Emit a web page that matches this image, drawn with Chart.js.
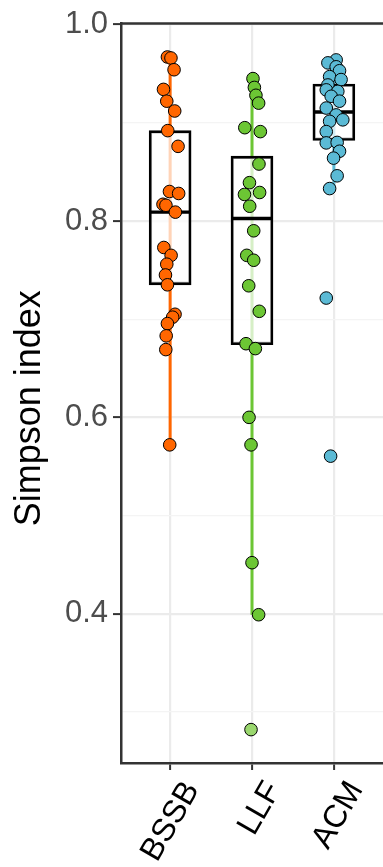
<!DOCTYPE html>
<html>
<head>
<meta charset="utf-8">
<script src="https://cdn.jsdelivr.net/npm/chart.js@4.4.1/dist/chart.umd.min.js"></script>
<style>
  html, body { margin: 0; padding: 0; background: #ffffff; overflow: hidden; }
  #wrap { width: 383px; height: 867px; position: relative; }
</style>
</head>
<body>
<div id="wrap"><canvas id="chart"></canvas></div>
<script>
// Sites
const categories = ['BSSB', 'LLF', 'ACM'];
const groupColors = ['#FF6600', '#6CC634', '#5BBAD5'];

// Simpson index per sample, with horizontal jitter (in category units)
const bssbValues = [0.967, 0.966, 0.954, 0.934, 0.922, 0.912, 0.892, 0.876, 0.830, 0.828, 0.817, 0.816,
                    0.809, 0.773, 0.765, 0.756, 0.745, 0.735, 0.705, 0.702, 0.6955, 0.683, 0.669, 0.572];
const bssbJitter = [-0.033, 0.010, 0.048, -0.081, -0.041, 0.056, -0.029, 0.097, -0.008, 0.104, -0.087, -0.051,
                    0.064, -0.077, 0.012, -0.041, -0.057, -0.033, 0.060, 0.031, -0.033, -0.048, -0.053, -0.005];

const llfValues = [0.945, 0.936, 0.928, 0.920, 0.895, 0.891, 0.858, 0.839, 0.829, 0.827, 0.815, 0.790,
                   0.765, 0.760, 0.734, 0.708, 0.675, 0.670, 0.600, 0.572, 0.452, 0.399];
const llfJitter = [0.012, 0.029, 0.048, 0.081, -0.088, 0.102, 0.085, -0.031, 0.093, -0.092, -0.028, 0.021,
                   -0.064, 0.021, -0.040, 0.089, -0.073, 0.041, -0.036, -0.012, 0.000, 0.081];
const llfOutliers = [0.282];
const llfOutlierJitter = [-0.012];

const acmValues = [0.964, 0.961, 0.957, 0.953, 0.947, 0.944, 0.9385, 0.9335, 0.932, 0.927, 0.922, 0.915,
                   0.908, 0.903, 0.9015, 0.891, 0.8795, 0.880, 0.871, 0.864, 0.846, 0.833, 0.7215, 0.5605];
const acmJitter = [0.028, -0.073, 0.028, 0.069, -0.052, 0.088, -0.073, -0.093, 0.048, -0.033, 0.069, -0.093,
                   0.028, 0.109, -0.052, -0.093, -0.093, 0.040, 0.069, -0.004, 0.040, -0.052, -0.093, -0.040];

// Box summaries per site
const q1Values     = [0.735, 0.674, 0.882];
const medianValues = [0.809, 0.8025, 0.911];
const q3Values     = [0.892, 0.866, 0.9395];
const whiskerLow   = [0.572, 0.399, 0.833];
const whiskerHigh  = [0.967, 0.945, 0.964];

// Axis ticks
const yMajorTicks = [0.4, 0.6, 0.8, 1.0];
const yMinorTicks = [0.3, 0.5, 0.7, 0.9];

const catPos = categories.map((_, i) => i + 1);
const boxHalf = 0.24;

const pointSets = [
  { values: bssbValues, jitter: bssbJitter },
  { values: llfValues, jitter: llfJitter },
  { values: acmValues, jitter: acmJitter }
];

const datasets = [];

// whiskers
catPos.forEach((c, i) => {
  datasets.push({
    type: 'line',
    data: [{ x: c, y: whiskerLow[i] }, { x: c, y: whiskerHigh[i] }],
    borderColor: groupColors[i],
    borderWidth: 3,
    pointRadius: 0,
    order: 5
  });
});

// boxes (interquartile range)
datasets.push({
  type: 'bar',
  data: catPos.map((c, i) => ({ x: c, y: [q1Values[i], q3Values[i]] })),
  backgroundColor: 'rgba(255,255,255,0.72)',
  borderColor: '#000000',
  borderWidth: 2.6,
  borderSkipped: false,
  barThickness: 42,
  order: 4
});

// medians
const medianData = [];
catPos.forEach((c, i) => {
  medianData.push({ x: c - boxHalf - 0.01, y: medianValues[i] });
  medianData.push({ x: c + boxHalf + 0.01, y: medianValues[i] });
  medianData.push({ x: c + 0.5, y: null });
});
datasets.push({
  type: 'line',
  data: medianData,
  borderColor: '#000000',
  borderWidth: 3.4,
  pointRadius: 0,
  spanGaps: false,
  order: 3
});

// outlying sample
datasets.push({
  type: 'scatter',
  data: llfOutliers.map((v, k) => ({ x: catPos[1] + llfOutlierJitter[k], y: v })),
  backgroundColor: '#9AD76E',
  borderColor: '#000000',
  borderWidth: 1,
  pointRadius: 6.3,
  order: 2
});

// samples
pointSets.forEach((set, i) => {
  datasets.push({
    type: 'scatter',
    data: set.values.map((v, k) => ({ x: catPos[i] + set.jitter[k], y: v })),
    backgroundColor: groupColors[i],
    borderColor: '#000000',
    borderWidth: 1,
    pointRadius: 6.3,
    order: 1
  });
});

const topBorder = {
  id: 'topBorder',
  afterDraw(chart) {
    const { ctx, chartArea } = chart;
    ctx.save();
    ctx.strokeStyle = '#333333';
    ctx.lineWidth = 2.5;
    ctx.beginPath();
    ctx.moveTo(chartArea.left, chartArea.top);
    ctx.lineTo(chartArea.right + 2, chartArea.top);
    ctx.stroke();
    ctx.restore();
  }
};

const fontFamily = "'Liberation Sans', Arial, sans-serif";

new Chart(document.getElementById('chart'), {
  type: 'scatter',
  data: { datasets },
  plugins: [topBorder],
  options: {
    responsive: true,
    maintainAspectRatio: false,
    animation: false,
    events: [],
    layout: { autoPadding: false, padding: { top: 21, left: 0, right: -3, bottom: 0 } },
    plugins: { legend: { display: false }, tooltip: { enabled: false } },
    scales: {
      x: {
        type: 'linear',
        min: 0.4,
        max: 3.6,
        offset: false,
        afterBuildTicks: s => { s.ticks = catPos.map(v => ({ value: v })); },
        afterFit: s => { s.height = 104; s.paddingLeft = 0; s.paddingRight = 0; },
        ticks: {
          callback: v => categories[Math.round(v) - 1],
          minRotation: 60,
          maxRotation: 60,
          autoSkip: false,
          color: '#000000',
          padding: 5,
          labelOffset: 22,
          font: { family: fontFamily, size: 32 }
        },
        grid: {
          offset: false,
          color: '#EBEBEB',
          lineWidth: 2.2,
          tickColor: '#333333',
          tickLength: 7,
          tickWidth: 2
        },
        border: { display: true, color: '#333333', width: 2.5 }
      },
      y: {
        type: 'linear',
        min: 0.248,
        max: 1.001,
        afterBuildTicks: s => {
          s.ticks = yMinorTicks.concat(yMajorTicks).sort((a, b) => a - b).map(v => ({ value: v }));
        },
        afterFit: s => { s.width = 121; },
        ticks: {
          callback: v => (yMajorTicks.includes(v) ? v.toFixed(1) : ''),
          autoSkip: false,
          color: '#4D4D4D',
          padding: 5,
          font: { family: fontFamily, size: 31 }
        },
        grid: {
          color: c => (c.tick && yMajorTicks.includes(c.tick.value) ? '#EBEBEB' : '#F4F4F4'),
          lineWidth: c => (c.tick && yMajorTicks.includes(c.tick.value) ? 2.2 : 1.2),
          tickColor: c => (c.tick && yMajorTicks.includes(c.tick.value) ? '#333333' : 'rgba(0,0,0,0)'),
          tickLength: 8,
          tickWidth: 2
        },
        border: { display: true, color: '#333333', width: 2.5 },
        title: {
          display: true,
          text: 'Simpson index   ',
          color: '#000000',
          font: { family: fontFamily, size: 36 },
          padding: { top: 8, bottom: 0 }
        }
      }
    }
  }
});
</script>
</body>
</html>
